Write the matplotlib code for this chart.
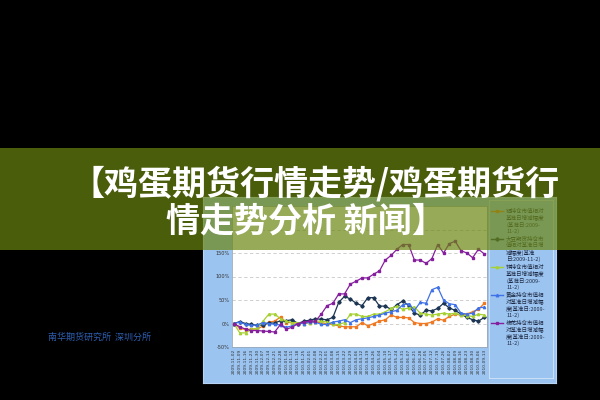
import matplotlib
matplotlib.use("Agg")
import matplotlib.pyplot as plt
from matplotlib.patches import Rectangle

plt.rcParams['font.family'] = ['Noto Sans CJK SC', 'DejaVu Sans']

title_lines = ["【鸡蛋期货行情走势/鸡蛋期货行", "情走势分析 新闻】"]
footer = "南华期货研究所  深圳分所"

dates = ["2009-11-02", "2009-11-09", "2009-11-16", "2009-11-23", "2009-11-30",
         "2009-12-07", "2009-12-14", "2009-12-21", "2009-12-28", "2010-01-04",
         "2010-01-11", "2010-01-18", "2010-01-25", "2010-02-01", "2010-02-08",
         "2010-02-22", "2010-03-01", "2010-03-08", "2010-03-15", "2010-03-22",
         "2010-03-29", "2010-04-06", "2010-04-12", "2010-04-19", "2010-04-26",
         "2010-05-04", "2010-05-10", "2010-05-17", "2010-05-24", "2010-05-31",
         "2010-06-07", "2010-06-21", "2010-06-28", "2010-07-05", "2010-07-12",
         "2010-07-19", "2010-07-26", "2010-08-02", "2010-08-09", "2010-08-16",
         "2010-08-23", "2010-08-30", "2010-09-06", "2010-09-13"]

# 各品种持仓市值相对基准日增减幅度 (%)
lv = [0, -10, -13, -12, -12, -5, 3, 5, 14, 2, 2, 0, 1, 2, 3, 2, -1, -2, -5, -7,
      -7, -7, 2, -5, 0, 5, 8, 18, 13, 13, 12, 2, 0, 0, 3, 10, 7, 15, 20, 18,
      20, 25, 30, 43]
dadou = [0, 4, 0, -2, -4, -3, 1, 1, 6, 6, 8, 0, 5, 7, 10, 9, 8, 13, 45, 58,
         52, 43, 38, 55, 55, 37, 37, 30, 40, 48, 38, 22, 18, 28, 27, 32, 43, 33, 28, 20,
         13, 8, 5, 13]
xin = [0, -20, -20, -12, -10, 5, 20, 20, 10, 5, 2, 2, 0, 2, 5, 5, 3, -2, -2, 2,
       20, 20, 15, 15, 20, 20, 25, 32, 37, 30, 33, 35, 22, 20, 18, 20, 22, 20, 22, 18,
       17, 15, 20, 18]
huangjin = [0, 3, -2, -4, -3, 2, 0, -2, -3, -8, -5, 0, 0, 3, 3, -2, -2, 3, 5, 8,
            2, 8, 10, 12, 15, 18, 22, 25, 28, 40, 42, 28, 45, 43, 72, 77, 50, 42, 40, 22,
            20, 22, 33, 35]
mianhua = [0, -7, -12, -15, -15, -16, -17, -18, -2, -12, -8, 0, 3, 5, 5, 20, 38, 43, 63, 63,
           84, 90, 97, 97, 105, 112, 135, 145, 158, 168, 168, 135, 135, 128, 138, 168, 150, 170, 175, 155,
           150, 140, 158, 148]

series = [
    (lv, '#f07820', 's', ["铝持仓市值相对", "基准日增减幅度", "(基准日:2009-", "11-2)"]),
    (dadou, '#1b3553', 'D', ["大豆期货持仓市", "值相对基准日增", "减幅度(基准", "日:2009-11-2)"]),
    (xin, '#a6d132', '^', ["锌持仓市值相对", "基准日增减幅度", "(基准日:2009-", "11-2)"]),
    (huangjin, '#3f72e6', '^', ["黄金持仓市值相", "对基准日增减幅", "度(基准日:2009-", "11-2)"]),
    (mianhua, '#861f9e', 's', ["棉花持仓市值相", "对基准日增减幅", "度(基准日:2009-", "11-2)"]),
]

fig = plt.figure(figsize=(6, 4), dpi=100)
fig.patch.set_facecolor('black')

# 截图底板
panel = fig.add_axes([0.338, 0.0425, 0.588, 0.465])
panel.set_facecolor('#9cc4f0')
panel.set_xticks([])
panel.set_yticks([])
for s in panel.spines.values():
    s.set_color('#b8d4f4')

ax = fig.add_axes([0.387, 0.1325, 0.425, 0.3525])
ax.set_facecolor('white')
x = list(range(len(dates)))
for vals, col, mk, _ in series:
    ax.plot(x, vals, color=col, lw=0.9, marker=mk, ms=1.7, mec=col)
ax.set_xlim(-0.3, len(dates) - 0.5)
ax.set_ylim(-50, 250)
yt = [-50, 0, 50, 100, 150, 200]
ax.set_yticks(yt)
# 200% 标签被横幅遮住
ax.set_yticklabels([f"{v}%" if v < 200 else "" for v in yt], fontsize=3.6,
                   color='#333333', family=['DejaVu Sans'])
ax.set_xticks(x)
ax.set_xticklabels(dates, rotation=90, fontsize=3.2, color='#333333',
                   family=['DejaVu Sans'])
ax.tick_params(length=0, pad=1.5)
ax.yaxis.grid(True, ls=(0, (4, 3)), color='#c8c8c8', lw=0.6)
ax.set_axisbelow(True)
for s in ax.spines.values():
    s.set_color('#9aa8b8')
    s.set_linewidth(0.6)

# 图例
lg = fig.add_axes([0.815, 0.055, 0.107, 0.445])
lg.set_facecolor('#9cc4f0')
lg.set_xlim(0, 64)
lg.set_ylim(378, 200)
lg.set_xticks([])
lg.set_yticks([])
for s in lg.spines.values():
    s.set_color('#d4e4f8')
    s.set_linewidth(0.6)
for i, (vals, col, mk, lines) in enumerate(series):
    y0 = 211 + 28 * i
    lg.plot([2, 14], [y0, y0], color=col, lw=1.0)
    lg.plot([8], [y0], color=col, marker=mk, ms=1.8)
    for j, t in enumerate(lines):
        lg.text(17, y0 + 6.8 * j, t, fontsize=4.0, color='#1e2a44', va='center')

# 横幅
fig.add_artist(Rectangle((0, 1 - 250 / 400), 1, 102 / 400, transform=fig.transFigure,
                         facecolor=(107 / 255, 134 / 255, 16 / 255), alpha=0.7,
                         edgecolor='none', zorder=10))
fig.text(0.525, 1 - 184 / 400, title_lines[0], fontsize=24.5, fontweight='bold',
         color='white', ha='center', va='center', zorder=11)
fig.text(0.51, 1 - 221 / 400, title_lines[1], fontsize=24.5, fontweight='bold',
         color='white', ha='center', va='center', zorder=11)

fig.text(0.165, 1 - 337 / 400, footer, fontsize=6.5, color='#2f5fb0',
         ha='center', va='center')

fig.savefig('out.png', dpi=100, facecolor=fig.get_facecolor())
